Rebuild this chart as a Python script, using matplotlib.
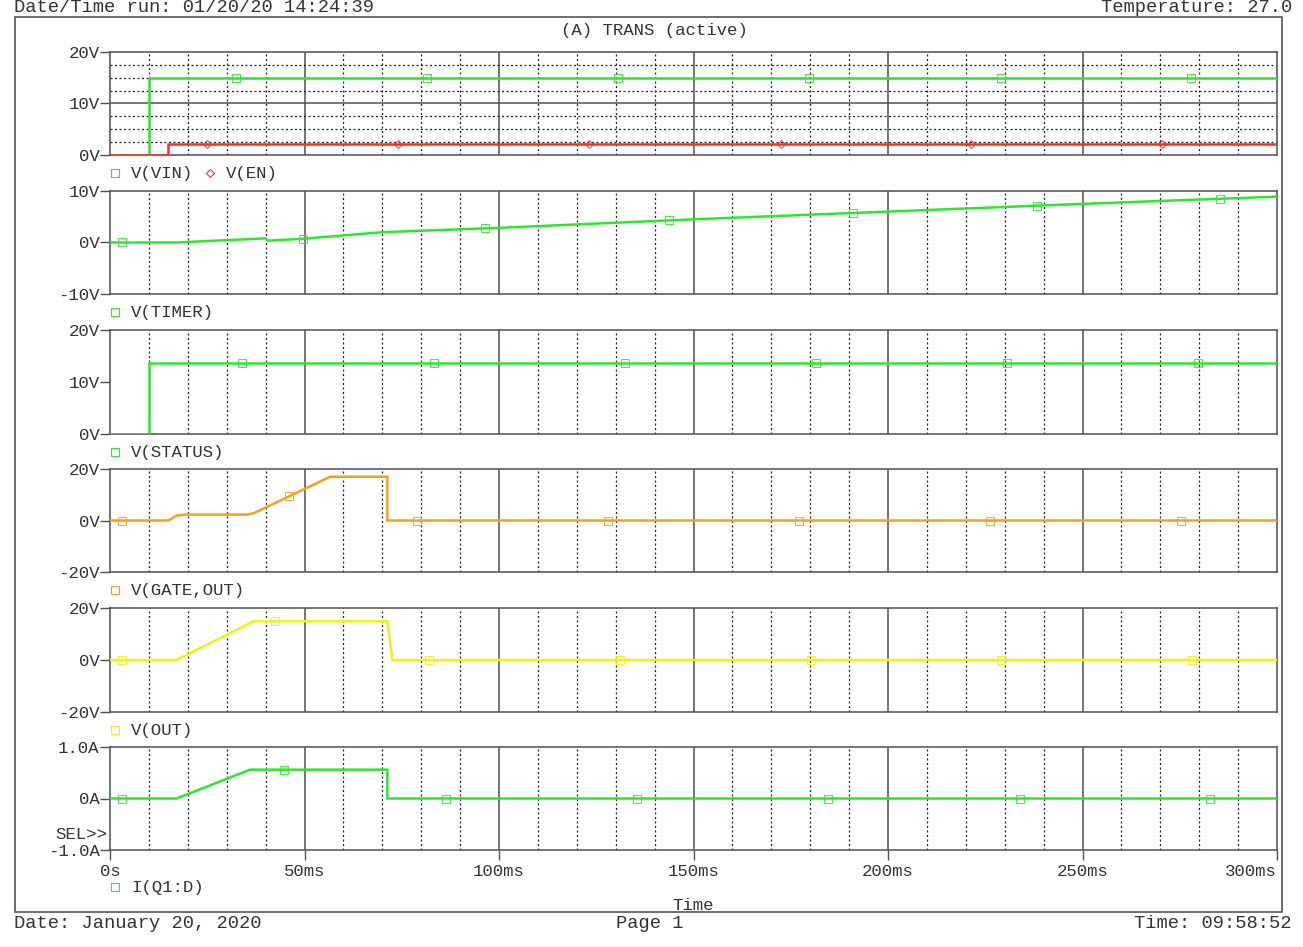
import numpy as np
import matplotlib
matplotlib.use('Agg')
import matplotlib.pyplot as plt
from matplotlib.lines import Line2D
from matplotlib.patches import Rectangle

plt.rcParams['font.family'] = ['Liberation Mono', 'DejaVu Sans Mono']

# ---------------- data (time in ms) ----------------
vin_t = [0, 10, 10, 300]
vin_v = [0, 0, 15, 15]
vin_mt = [32.4, 81.6, 130.7, 179.8, 229.0, 277.9]
vin_mv = [15, 15, 15, 15, 15, 15]

en_t = [0, 15, 15, 300]
en_v = [0, 0, 2.1, 2.1]
en_mt = [25.0, 74.1, 123.2, 172.4, 221.3, 270.4]
en_mv = [2.1, 2.1, 2.1, 2.1, 2.1, 2.1]

timer_t = [0, 17, 40, 40.6, 50, 70, 100, 150, 200, 250, 300]
timer_v = [0, 0, 0.8, 0.35, 0.75, 2.0, 2.85, 4.5, 6.0, 7.5, 8.9]
timer_mt = [3.1, 49.7, 96.5, 143.6, 190.9, 238.2, 285.3]
timer_mv = [0, 0.75, 2.75, 4.3, 5.7, 7.1, 8.4]

status_t = [0, 10, 10, 300]
status_v = [0, 0, 13.7, 13.7]
status_mt = [34.0, 83.4, 132.5, 181.4, 230.5, 279.7]
status_mv = [13.7, 13.7, 13.7, 13.7, 13.7, 13.7]

gate_t = [0, 15, 17.1, 19.3, 35.2, 36.9, 56.6, 71.3, 71.3, 300]
gate_v = [0, 0, 1.9, 2.3, 2.3, 2.8, 17, 17, 0, 0]
gate_mt = [3.1, 46.1, 79.0, 128.1, 177.0, 226.1, 275.3]
gate_mv = [0, 9.4, 0, 0, 0, 0, 0]

out_t = [0, 17.1, 36.9, 71.3, 72.6, 300]
out_v = [0, 0, 14.9, 14.9, 0, 0]
out_mt = [3.1, 42.4, 82.1, 131.0, 180.1, 229.0, 278.1]
out_mv = [0, 14.9, 0, 0, 0, 0, 0]

iq_t = [0, 17.1, 36.0, 71.3, 71.3, 300]
iq_v = [0, 0, 0.56, 0.56, 0, 0]
iq_mt = [3.1, 44.8, 86.4, 135.6, 184.7, 233.9, 282.7]
iq_mv = [0, 0.56, 0, 0, 0, 0, 0]

x_ticks = [0, 50, 100, 150, 200, 250, 300]
x_labels = ['0s', '50ms', '100ms', '150ms', '200ms', '250ms', '300ms']

GREEN = '#2ee62e'
RED = '#ff2a2a'
ORANGE = '#f5a01e'
YELLOW = '#f0f018'

panels = [
    dict(top=52, bot=155, ylim=(0, 20), yt=[0, 10, 20], yl=['0V', '10V', '20V'],
         series=[(vin_t, vin_v, vin_mt, vin_mv, GREEN, 's'),
                 (en_t, en_v, en_mt, en_mv, RED, 'D')],
         legend=[('V(VIN)', GREEN, 's'), ('V(EN)', RED, 'D')], hgrid=True),
    dict(top=191, bot=294, ylim=(-10, 10), yt=[-10, 0, 10], yl=['-10V', '0V', '10V'],
         series=[(timer_t, timer_v, timer_mt, timer_mv, GREEN, 's')],
         legend=[('V(TIMER)', GREEN, 's')]),
    dict(top=330, bot=434, ylim=(0, 20), yt=[0, 10, 20], yl=['0V', '10V', '20V'],
         series=[(status_t, status_v, status_mt, status_mv, GREEN, 's')],
         legend=[('V(STATUS)', GREEN, 's')]),
    dict(top=469, bot=572, ylim=(-20, 20), yt=[-20, 0, 20], yl=['-20V', '0V', '20V'],
         series=[(gate_t, gate_v, gate_mt, gate_mv, ORANGE, 's')],
         legend=[('V(GATE,OUT)', ORANGE, 's')]),
    dict(top=608, bot=712, ylim=(-20, 20), yt=[-20, 0, 20], yl=['-20V', '0V', '20V'],
         series=[(out_t, out_v, out_mt, out_mv, YELLOW, 's')],
         legend=[('V(OUT)', YELLOW, 's')]),
    dict(top=747, bot=850, ylim=(-1, 1), yt=[-1, 0, 1], yl=['-1.0A', '0A', '1.0A'],
         series=[(iq_t, iq_v, iq_mt, iq_mv, GREEN, 's')],
         legend=[('I(Q1:D)', GREEN, 's')]),
]

W, H = 1303, 947
fig = plt.figure(figsize=(W / 100, H / 100), dpi=100)

def fx(x):
    return x / W

def fy(y):
    return 1 - y / H

XL, XR = 110, 1277
TXT = '#333333'
FS = 12.5
FSH = 13.5

# outer frame
fig.add_artist(Rectangle((fx(15), fy(912)), fx(1282) - fx(15), fy(17) - fy(912),
                         transform=fig.transFigure, fill=False, edgecolor='#555555', lw=1.2))

fig.text(fx(14), fy(8), 'Date/Time run: 01/20/20 14:24:39', ha='left', va='center', fontsize=FSH, color=TXT)
fig.text(fx(1292), fy(8), 'Temperature: 27.0', ha='right', va='center', fontsize=FSH, color=TXT)
fig.text(fx(654), fy(30), '(A) TRANS (active)', ha='center', va='center', fontsize=FS, color=TXT)
fig.text(fx(14), fy(923), 'Date: January 20, 2020', ha='left', va='center', fontsize=FSH, color=TXT)
fig.text(fx(650), fy(923), 'Page 1', ha='center', va='center', fontsize=FSH, color=TXT)
fig.text(fx(1291), fy(923), 'Time: 09:58:52', ha='right', va='center', fontsize=FSH, color=TXT)
fig.text(fx(693), fy(905), 'Time', ha='center', va='center', fontsize=FS, color=TXT)
fig.text(fx(107), fy(834), 'SEL>>', ha='right', va='center', fontsize=FS, color=TXT)

for i, p in enumerate(panels):
    ax = fig.add_axes([fx(XL), fy(p['bot']), fx(XR) - fx(XL), (p['bot'] - p['top']) / H])
    ax.set_xlim(0, 300)
    ax.set_ylim(*p['ylim'])
    for s in ax.spines.values():
        s.set_color('#505050')
        s.set_linewidth(1.1)
    # vertical grid
    for t in range(10, 300, 10):
        if t % 50 == 0:
            ax.axvline(t, color='#505050', lw=1.1, zorder=1)
        else:
            ax.axvline(t, color='#222222', lw=0.9, ls=(0, (1.6, 2.0)), zorder=1)
    if p.get('hgrid'):
        lo, hi = p['ylim']
        step = (hi - lo) / 8
        for k in range(1, 8):
            yv = lo + k * step
            if k == 4:
                ax.axhline(yv, color='#505050', lw=1.1, zorder=1)
            else:
                ax.axhline(yv, color='#222222', lw=0.9, ls=(0, (1.6, 2.0)), zorder=1)
    for (t, v, mt, mv, c, m) in p['series']:
        ax.plot(t, v, color=c, lw=1.8, zorder=3, solid_joinstyle='miter')
        ax.plot(mt, mv, ls='none', marker=m, ms=5.8 if m == 's' else 4.5, mfc='none',
                mec=c, mew=0.8, zorder=4, alpha=0.85)
    ax.set_yticks(p['yt'])
    ax.set_yticklabels(p['yl'])
    ax.tick_params(axis='y', direction='out', length=7, width=1, color='#505050',
                   labelsize=FS, labelcolor=TXT, pad=0.5)
    if i == len(panels) - 1:
        ax.set_xticks(x_ticks)
        ax.set_xticklabels(x_labels)
        ax.tick_params(axis='x', direction='out', length=7, width=1, color='#505050',
                       labelsize=FS, labelcolor=TXT, pad=3)
        lbls = ax.get_xticklabels()
        lbls[-1].set_horizontalalignment('right')
        legend_y = 887
    else:
        ax.set_xticks([])
        legend_y = p['bot'] + 18
    # legend
    xpos = 115
    for (name, c, m) in p['legend']:
        fig.add_artist(Line2D([fx(xpos)], [fy(legend_y)], transform=fig.transFigure,
                              ls='none', marker=m, ms=5.8 if m == 's' else 4.5,
                              mfc='none', mec=c, mew=0.8))
        fig.text(fx(xpos + 16), fy(legend_y), name, ha='left', va='center', fontsize=FS, color=TXT)
        xpos += 95

fig.savefig('out.png', dpi=100)
